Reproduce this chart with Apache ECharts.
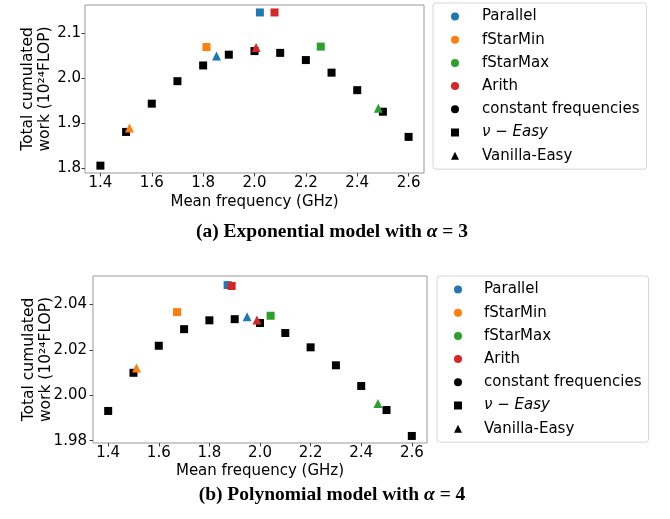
<!DOCTYPE html>
<html>
<head>
<meta charset="utf-8">
<script src="https://cdn.jsdelivr.net/npm/echarts@6/dist/echarts.min.js"></script>
<style>
  html, body { margin: 0; padding: 0; background: #fff; }
  #main { width: 670px; height: 519px; }
</style>
</head>
<body>
<div id="main"></div>
<script>
// 频率 (x)
const freqs = [1.4, 1.5, 1.6, 1.7, 1.8, 1.9, 2.0, 2.1, 2.2, 2.3, 2.4, 2.5, 2.6]
const methods = ['Parallel', 'fStarMin', 'fStarMax', 'Arith']
const methodColors = ['#1f77b4', '#ff7f0e', '#2ca02c', '#d62728']
const xTicks = [1.4, 1.6, 1.8, 2.0, 2.2, 2.4, 2.6]

// (a) exponential model
const expConst = [1.806, 1.881, 1.944, 1.994, 2.029, 2.053, 2.061, 2.057, 2.041, 2.013, 1.974, 1.926, 1.870]
const expEasyX = [2.021, 1.813, 2.258, 2.078]
const expEasyY = [2.147, 2.070, 2.071, 2.147]
const expVanX = [1.852, 1.513, 2.482, 2.006]
const expVanY = [2.050, 1.890, 1.934, 2.069]
const expYTicks = [1.8, 1.9, 2.0, 2.1]

// (b) polynomial model
const polyConst = [1.9931, 2.0099, 2.0218, 2.0291, 2.0330, 2.0335, 2.0318, 2.0274, 2.0211, 2.0132, 2.0041, 1.9935, 1.9821]
const polyEasyX = [1.872, 1.672, 2.042, 1.888]
const polyEasyY = [2.0485, 2.0366, 2.0350, 2.0481]
const polyVanX = [1.949, 1.512, 2.466, 1.988]
const polyVanY = [2.0346, 2.0120, 1.9964, 2.0331]
const polyYTicks = [1.98, 2.00, 2.02, 2.04]

const legendNames = ['Parallel', 'fStarMin', 'fStarMax', 'Arith', 'constant frequencies', 'nuEasy', 'Vanilla-Easy']
const legendIcons = ['circle', 'circle', 'circle', 'circle', 'circle', 'rect', 'triangle']

const FONT = 'DejaVu Sans'
const chart = echarts.init(document.getElementById('main'))

// 坐标轴
function makeX (gridIndex, labelMargin, nameGap) {
  return {
    type: 'value',
    gridIndex: gridIndex,
    min: 1.34,
    max: 2.66,
    name: 'Mean frequency (GHz)',
    nameLocation: 'middle',
    nameGap: nameGap,
    nameMoveOverlap: false,
    nameTextStyle: { fontFamily: FONT, fontSize: 15, color: '#000', lineHeight: 17 },
    axisLine: { show: false },
    splitLine: { show: false },
    axisTick: { show: true, length: 3.5, customValues: xTicks, lineStyle: { color: '#444' } },
    axisLabel: {
      customValues: xTicks,
      margin: labelMargin,
      fontFamily: FONT,
      fontSize: 15,
      lineHeight: 15,
      color: '#000',
      formatter: (v) => v.toFixed(1)
    }
  }
}
function makeY (gridIndex, min, max, ticks, digits, labelMargin, nameGap) {
  return {
    type: 'value',
    gridIndex: gridIndex,
    min: min,
    max: max,
    name: 'Total cumulated\nwork (10²⁴FLOP)',
    nameLocation: 'middle',
    nameRotate: 90,
    nameGap: nameGap,
    nameMoveOverlap: false,
    nameTextStyle: { fontFamily: FONT, fontSize: 15.5, color: '#000', lineHeight: 17.5 },
    axisLine: { show: false },
    splitLine: { show: false },
    axisTick: { show: true, length: 3.5, customValues: ticks, lineStyle: { color: '#444' } },
    axisLabel: {
      customValues: ticks,
      margin: labelMargin,
      fontFamily: FONT,
      fontSize: 15,
      color: '#000',
      formatter: (v) => v.toFixed(digits)
    }
  }
}

// 散点系列
function makeSeries (idx, constVals, easyX, easyY, vanX, vanY) {
  const list = []
  list.push({
    type: 'scatter',
    xAxisIndex: idx,
    yAxisIndex: idx,
    symbol: 'rect',
    symbolSize: 8,
    itemStyle: { color: '#000', opacity: 1 },
    data: freqs.map((f, i) => [f, constVals[i]]),
    z: 2
  })
  methods.forEach((m, i) => {
    list.push({
      type: 'scatter',
      xAxisIndex: idx,
      yAxisIndex: idx,
      symbol: 'rect',
      symbolSize: 8,
      itemStyle: { color: methodColors[i], opacity: 1 },
      data: [[easyX[i], easyY[i]]],
      z: 3
    })
  })
  methods.forEach((m, i) => {
    list.push({
      type: 'scatter',
      xAxisIndex: idx,
      yAxisIndex: idx,
      symbol: 'triangle',
      symbolSize: 9,
      itemStyle: { color: methodColors[i], opacity: 1 },
      data: [[vanX[i], vanY[i]]],
      z: 4
    })
  })
  return list
}

// 图例用的空系列
const legendSeries = legendNames.map((n, i) => ({
  type: 'scatter',
  name: n,
  xAxisIndex: 0,
  yAxisIndex: 0,
  symbol: legendIcons[i],
  itemStyle: { color: i < 4 ? methodColors[i] : '#000', opacity: 1 },
  data: []
}))

function makeLegend (left, top, padLeft, textPad) {
  return {
    orient: 'vertical',
    left: left,
    top: top,
    data: legendNames.map((n, i) => ({ name: n, icon: legendIcons[i] })),
    itemWidth: 8,
    itemHeight: 8,
    itemGap: 8.2,
    padding: [6, 7, 6, padLeft],
    borderColor: '#d6d6d6',
    borderWidth: 1,
    borderRadius: 3,
    selectedMode: false,
    formatter: (name) => name === 'nuEasy' ? '{i|ν − Easy}' : '{t|' + name + '}',
    textStyle: {
      fontFamily: FONT,
      fontSize: 15,
      color: '#000',
      rich: {
        t: { fontFamily: FONT, fontSize: 15, lineHeight: 15, color: '#000', padding: [0, 0, 0, textPad] },
        i: { fontFamily: FONT, fontSize: 15, lineHeight: 15, color: '#000', fontStyle: 'italic', padding: [0, 0, 0, textPad] }
      }
    }
  }
}

function makeCaption (text, top) {
  return {
    text: text,
    left: 332,
    top: top,
    textAlign: 'center',
    padding: 0,
    textStyle: {
      rich: {
        b: { fontFamily: 'Liberation Serif', fontWeight: 'bold', fontSize: 19.5, color: '#000' },
        a: { fontFamily: 'Liberation Serif', fontStyle: 'italic', fontSize: 19.5, color: '#000' },
        r: { fontFamily: 'Liberation Serif', fontSize: 19.5, color: '#000' }
      }
    }
  }
}

const option = {
  backgroundColor: '#fff',
  animation: false,
  title: [
    makeCaption('{b|(a) Exponential model with }{a|α}{r| = 3}', 222),
    makeCaption('{b|(b) Polynomial model with }{a|α}{r| = 4}', 485)
  ],
  grid: [
    { left: 85, top: 5, width: 339, height: 168, show: true, borderColor: '#999', borderWidth: 1 },
    { left: 93, top: 276, width: 334, height: 167, show: true, borderColor: '#999', borderWidth: 1 }
  ],
  legend: [
    makeLegend(433, 3, 18, 18),
    makeLegend(437, 276, 17, 17)
  ],
  xAxis: [
    makeX(0, 3, 21),
    makeX(1, 3, 20)
  ],
  yAxis: [
    makeY(0, 1.7896, 2.1636, expYTicks, 1, 4, 31),
    makeY(1, 1.979, 2.0525, polyYTicks, 2, 6, 38)
  ],
  series: []
    .concat(makeSeries(0, expConst, expEasyX, expEasyY, expVanX, expVanY))
    .concat(makeSeries(1, polyConst, polyEasyX, polyEasyY, polyVanX, polyVanY))
    .concat(legendSeries)
}
chart.setOption(option)
</script>
</body>
</html>
